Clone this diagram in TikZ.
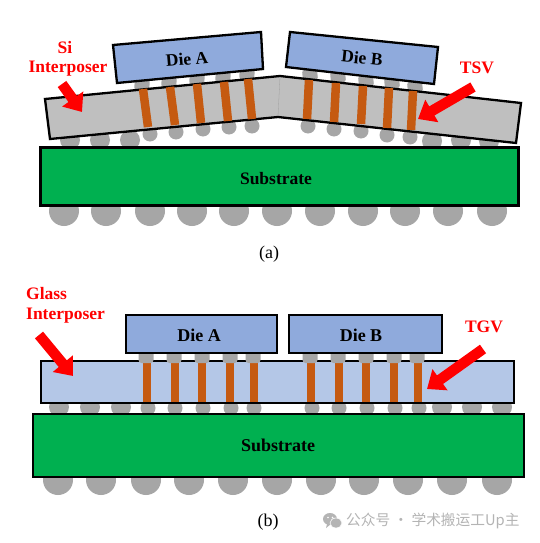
\documentclass[tikz,border=0pt]{standalone}
\usepackage{fontspec}
\setmainfont{Liberation Serif}
\newfontfamily\cjkfont{Noto Sans CJK SC}
\usetikzlibrary{arrows.meta}
\definecolor{ballgray}{HTML}{A6A6A6}
\definecolor{siGray}{HTML}{BFBFBF}
\definecolor{glassBlue}{HTML}{B4C7E7}
\definecolor{dieBlue}{HTML}{8FAADC}
\definecolor{subGreen}{HTML}{00B050}
\definecolor{viaOrange}{HTML}{C55A11}
\definecolor{markGray}{HTML}{B4B4B4}
\tikzset{
  x=1pt,y=-1pt,
  outlined/.style={draw=black,line width=2.3pt,line join=miter},
  ball/.style={fill=ballgray,draw=none},
  via/.style={draw=viaOrange,line width=8.5pt},
  callout/.style={draw=red,line width=10.5pt,-{Triangle[length=16pt,width=25pt]}},
  lab/.style={font=\bfseries\fontsize{17.5}{19}\selectfont,text=black,inner sep=0pt},
  labb/.style={font=\bfseries\fontsize{18}{20}\selectfont,text=black,inner sep=0pt},
  redlab/.style={font=\bfseries\fontsize{17.5}{20}\selectfont,text=red,inner sep=0pt},
  caplab/.style={font=\fontsize{18}{20}\selectfont,text=black,inner sep=0pt},
}
\begin{document}
\begin{tikzpicture}
\useasboundingbox (0,0) rectangle (539,543);
\fill[white] (0,0) rectangle (539,543);

% ---------- (a) ----------
\foreach \x in {64,106,150,192,234,277,320,363,405,448,492}
  \fill[ball] (\x,211) circle (15);
\foreach \x/\y in {70/140,100/140,130/140,432/141,461/140,489/141}
  \fill[ball] (\x,\y) ellipse (10 and 10);
\foreach \x/\y in {150/134,176/132,203/129,229/127,252/126,308/126,334/129,361/131,387/135,410/137}
  \fill[ball] (\x,\y) circle (7.5);
\foreach \x/\y in {142/85,169/82,197/79,223/77,247/74}
  \fill[ball,rounded corners=3pt,rotate around={-5:(\x,\y)}] (\x-7.5,\y-6) rectangle (\x+7.5,\y+6);
\foreach \x/\y in {310/75,338/77,366/81,392/83,415/87}
  \fill[ball,rounded corners=3pt,rotate around={6:(\x,\y)}] (\x-7.5,\y-6) rectangle (\x+7.5,\y+6);
\node[outlined,fill=subGreen,minimum width=478pt,minimum height=58pt,inner sep=0pt] (subA) at (279.5,176.5) {};
\node[lab] (subAt) at (276,179) {Substrate};
\filldraw[outlined,fill=siGray] (45,99) -- (280,76) -- (521,103) -- (516,143) -- (278,117) -- (50,139) -- cycle;
\draw[gray!75,line width=0.3pt] (280,77) -- (278,116);
\foreach \xa/\ya/\xb/\yb in {143/89/148/127,170/87/175/125,197/84/201/123,224/82/228/121,248/79/252/119,
    309/80/307/119,336/83/334/122,363/86/361/124,389/88/387/128,413/91/411/130}
  \draw[via] (\xa,\ya) -- (\xb,\yb);
\filldraw[outlined,fill=dieBlue] (113,45) -- (261,32) -- (263,69) -- (117,83) -- cycle;
\filldraw[outlined,fill=dieBlue] (290,32) -- (438,47) -- (434,84) -- (286,67) -- cycle;
\node[lab,rotate=5] (dieAa) at (187,59) {Die A};
\node[lab,rotate=-6] (dieBa) at (362,58) {Die B};

\node[redlab] (si) at (65,48) {Si};
\node[redlab] (intA) at (68,69) {Interposer};
\node[redlab] (tsv) at (477,68) {TSV};
\coordinate (siTail) at (62,84);
\coordinate (siTip) at (82,112);
\coordinate (tsvTail) at (473,87);
\coordinate (tsvTip) at (418,119);
\draw[callout] (siTail) -- (siTip);
\draw[callout] (tsvTail) -- (tsvTip);
\node[caplab] (capA) at (269,254) {(a)};

% ---------- (b) ----------
\foreach \x in {58,101,146,189,233,277,321,364,408,452,497}
  \fill[ball] (\x,480) circle (15);
\foreach \x in {59,90,121,442,472,502}
  \fill[ball] (\x,407) ellipse (10 and 10);
\foreach \x in {148,175,203,231,254,312,339,367,395,419}
  \fill[ball] (\x,408) circle (7.5);
\node[outlined,fill=subGreen,minimum width=491pt,minimum height=63pt,inner sep=0pt] (subB) at (278.5,445.5) {};
\node[labb] (subBt) at (278,445) {Substrate};
\node[outlined,fill=glassBlue,minimum width=473pt,minimum height=42pt,inner sep=0pt] (glass) at (277.5,382) {};
\foreach \x in {147,175,202,230,254,311,339,366,394,418}
  \draw[via] (\x,362) -- (\x,402);
\foreach \x in {146,174,202,230,253,310,338,366,394,417}
  \fill[ball,rounded corners=3pt] (\x-7.5,350) rectangle (\x+7.5,363);
\node[outlined,fill=dieBlue,minimum width=151pt,minimum height=38pt,inner sep=0pt] (dieAb) at (201.5,334) {};
\node[outlined,fill=dieBlue,minimum width=153pt,minimum height=38pt,inner sep=0pt] (dieBb) at (365.5,334) {};
\node[labb] (dieAbt) at (199,335) {Die A};
\node[labb] (dieBbt) at (361,335) {Die B};

\node[redlab,anchor=west] (gl) at (26,294) {Glass};
\node[redlab,anchor=west] (intB) at (26,316) {Interposer};
\node[redlab] (tgv) at (484,327) {TGV};
\coordinate (glTail) at (39,335);
\coordinate (glTip) at (73,376);
\coordinate (tgvTail) at (483,349);
\coordinate (tgvTip) at (427,389);
\draw[callout] (glTail) -- (glTip);
\draw[callout] (tgvTail) -- (tgvTip);
\node[caplab] (capB) at (268,522) {(b)};

% ---------- watermark ----------
\fill[markGray] (330,519) ellipse (7 and 6);
\fill[markGray] (327,524) -- (326,528) -- (331,524) -- cycle;
\fill[markGray,draw=white,line width=0.6pt] (336,523) ellipse (6 and 5);
\fill[white] (328,517.5) circle (0.8) (332.5,517.5) circle (0.8);
\node[inner sep=0pt,anchor=west,text=markGray,font=\cjkfont\fontsize{14.7}{16}\selectfont] (wm) at (346,521) {公众号 · 学术搬运工Up主};
\end{tikzpicture}
\end{document}
